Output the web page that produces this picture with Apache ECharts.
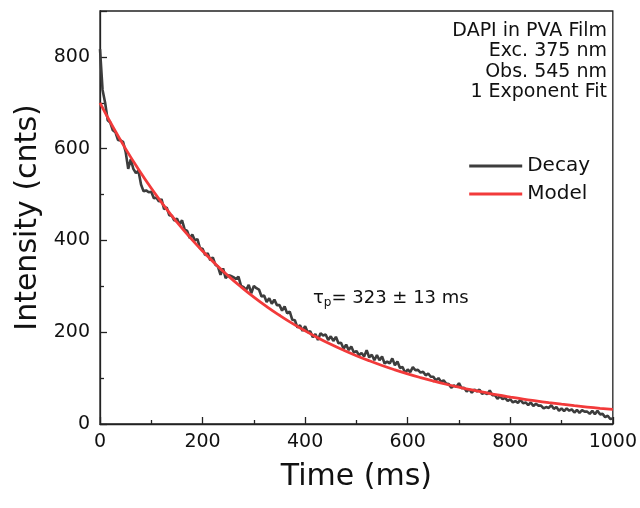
<!DOCTYPE html>
<html><head><meta charset="utf-8">
<script src="https://cdn.jsdelivr.net/npm/echarts@6/dist/echarts.min.js"></script>
<style>html,body{margin:0;padding:0;background:#fff}#c{width:640px;height:508px}</style>
</head><body><div id="c"></div>
<script>
var decayTime = [0,5,10,15,20,25,30,35,40,45,50,55,60,65,70,75,80,85,90,95,100,105,110,115,120,125,130,135,140,145,150,155,160,165,170,175,180,185,190,195,200,205,210,215,220,225,230,235,240,245,250,255,260,265,270,275,280,285,290,295,300,305,310,315,320,325,330,335,340,345,350,355,360,365,370,375,380,385,390,395,400,405,410,415,420,425,430,435,440,445,450,455,460,465,470,475,480,485,490,495,500,505,510,515,520,525,530,535,540,545,550,555,560,565,570,575,580,585,590,595,600,605,610,615,620,625,630,635,640,645,650,655,660,665,670,675,680,685,690,695,700,705,710,715,720,725,730,735,740,745,750,755,760,765,770,775,780,785,790,795,800,805,810,815,820,825,830,835,840,845,850,855,860,865,870,875,880,885,890,895,900,905,910,915,920,925,930,935,940,945,950,955,960,965,970,975,980,985,990,995,1000];
var decayVals = [817,728,700,662,657,640,636,619,618,615,593,556,577,556,547,552,522,507,509,505,506,492,493,485,490,468,472,455,454,443,448,435,444,424,421,405,413,400,403,383,382,368,372,357,363,347,343,325,339,318,324,323,320,316,321,301,298,292,303,285,301,296,293,278,280,266,274,262,271,259,259,247,256,241,245,227,226,210,215,203,213,200,202,189,196,183,198,193,195,183,191,181,190,176,177,164,173,161,169,156,159,150,155,147,161,145,151,139,150,139,147,132,136,132,143,128,136,122,124,111,119,113,124,117,118,112,114,106,110,103,103,95,100,92,95,88,87,79,84,81,89,78,79,71,76,68,75,71,75,66,68,65,73,63,63,55,61,54,57,50,54,47,50,46,53,45,47,41,47,39,44,40,40,34,37,35,41,33,37,29,34,28,34,29,32,25,31,24,30,27,27,22,29,21,29,21,22,15,18,11,12];
var modelTime = [0,25,50,75,100,125,150,175,200,225,250,275,300,325,350,375,400,425,450,475,500,525,550,575,600,625,650,675,700,725,750,775,800,825,850,875,900,925,950,975,1000];
var modelVals = [700,647.9,599.6,555.0,513.6,475.4,440.0,407.2,376.9,348.8,322.8,298.8,276.5,255.9,236.9,219.2,202.9,187.8,173.8,160.9,148.9,137.8,127.5,118.0,109.2,101.1,93.6,86.6,80.2,74.2,68.7,63.5,58.8,54.4,50.4,46.6,43.1,39.9,37.0,34.2,31.7];
var infoLines = ['DAPI in PVA Film','Exc. 375 nm','Obs. 545 nm','1 Exponent Fit'];
var seriesNames = ['Decay','Model'];
var xTitle = 'Time (ms)';
var yTitle = 'Intensity (cnts)';

function zip(a,b){return a.map(function(v,i){return [v,b[i]];});}
var FONT = 'DejaVu Sans';
var chart = echarts.init(document.getElementById('c'), null, {renderer:'canvas'});
var graphics = infoLines.map(function(t,i){
  return {type:'text', right: 33, top: 22 + Math.round(i*20.3),
    style:{text:t, fill:'#111', font:'19px "DejaVu Sans"', textAlign:'right'}};
});
graphics.push({type:'text', left: 313, top: 289, style:{
  rich:{t:{fontFamily:FONT,fontSize:18,fill:'#111'}, s:{fontFamily:FONT,fontSize:12,fill:'#111',verticalAlign:'bottom',padding:[10,0,0,0]}},
  text:'{t|τ}{s|p}{t|= 323 ± 13 ms}', fill:'#111'}});
chart.setOption({
  animation:false,
  grid:{left:100,right:27,top:11,bottom:84,show:true,borderColor:'#222',borderWidth:1.3,backgroundColor:'transparent'},
  legend:{orient:'vertical',right:45,top:151,itemWidth:53,itemHeight:3,icon:'rect',itemGap:8,
    textStyle:{fontFamily:FONT,fontSize:20,color:'#111'},data:seriesNames},
  xAxis:{type:'value',min:0,max:1000,interval:200,name:xTitle,nameLocation:'middle',nameGap:38,
    nameTextStyle:{fontFamily:FONT,fontSize:30,color:'#111'},
    axisLine:{lineStyle:{color:'#222',width:1.3}},
    axisTick:{inside:true,length:7,lineStyle:{color:'#222',width:1.3}},
    minorTick:{show:true,splitNumber:2,length:4,lineStyle:{color:'#222',width:1.3}},
    splitLine:{show:false},
    axisLabel:{fontFamily:FONT,fontSize:19,color:'#111',margin:9,formatter:function(v){return String(v);}}},
  yAxis:{type:'value',min:0,max:900,interval:200,name:yTitle,nameLocation:'middle',nameGap:50,
    nameTextStyle:{fontFamily:FONT,fontSize:30,color:'#111'},
    axisLine:{show:true,lineStyle:{color:'#222',width:1.3}},
    axisTick:{show:true,inside:true,length:7,lineStyle:{color:'#222',width:1.3}},
    minorTick:{show:true,splitNumber:2,length:4,lineStyle:{color:'#222',width:1.3}},
    splitLine:{show:false},
    axisLabel:{fontFamily:FONT,fontSize:19,color:'#111',margin:10,showMaxLabel:false,formatter:function(v){return String(v);}}},
  graphic:graphics,
  series:[
    {name:seriesNames[0],type:'line',data:zip(decayTime,decayVals),showSymbol:false,
      lineStyle:{color:'#3d3d3d',width:2.6},itemStyle:{color:'#3d3d3d'}},
    {name:seriesNames[1],type:'line',data:zip(modelTime,modelVals),showSymbol:false,smooth:true,
      lineStyle:{color:'#f23a3a',width:2.8},itemStyle:{color:'#f23a3a'}}
  ]
});
</script></body></html>
